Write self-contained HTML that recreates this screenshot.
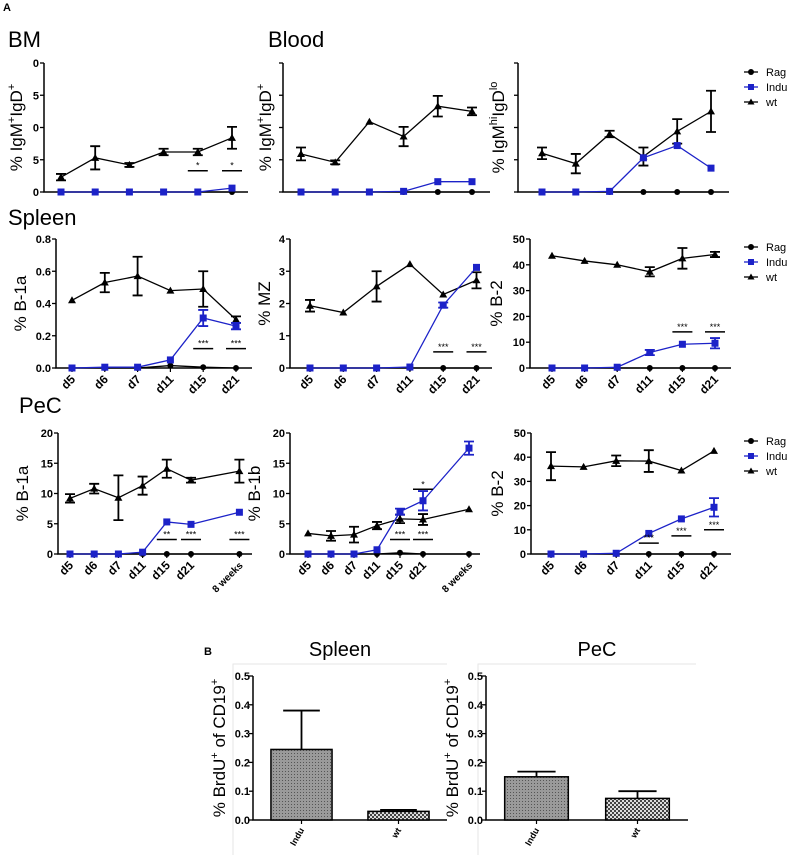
<!DOCTYPE html>
<html><head><meta charset="utf-8"><style>
body{margin:0;background:#fff;}
svg{display:block;font-family:"Liberation Sans",sans-serif;}
</style></head><body>
<svg id="fig" width="793" height="855" viewBox="0 0 793 855" xmlns="http://www.w3.org/2000/svg">
<rect width="793" height="855" fill="#fff"/>
<text x="3" y="11" font-size="11" font-weight="bold">A</text>
<text x="8" y="47" font-size="22">BM</text>
<text x="268" y="47" font-size="22">Blood</text>
<text x="8" y="225" font-size="22">Spleen</text>
<text x="19" y="413" font-size="22">PeC</text>
<text x="204" y="655" font-size="11" font-weight="bold">B</text>
<text x="340" y="656" font-size="20" text-anchor="middle">Spleen</text>
<text x="597" y="656" font-size="20" text-anchor="middle">PeC</text>
<g fill="none" stroke="#e6e6e6" stroke-width="1">
<polyline points="233,855 233,664 447,664"/>
<polyline points="478,855 478,664 696,664"/>
</g>
<defs>
<pattern id="hatch1" width="3" height="3" patternUnits="userSpaceOnUse"><rect width="3" height="3" fill="#9a9a9a"/><rect width="1" height="1" fill="#555"/></pattern>
<pattern id="hatch2" width="4" height="4" patternUnits="userSpaceOnUse"><rect width="4" height="4" fill="#ddd"/><rect width="2" height="2" fill="#444"/><rect x="2" y="2" width="2" height="2" fill="#444"/></pattern>
</defs>
</svg>
<script>
const NS="http://www.w3.org/2000/svg";
const svg=document.getElementById('fig');
function mk(tag,attrs,parent){const e=document.createElementNS(NS,tag);for(const k in attrs)e.setAttribute(k,attrs[k]);(parent||svg).appendChild(e);return e;}

// ---------- DATA ----------
const dayCats=["d5","d6","d7","d11","d15","d21"];
const pecCats=["d5","d6","d7","d11","d15","d21","8 weeks"];
const dayIdx=[0,1,2,3,4,5];
const pecIdx=[0,1,2,3,4,5,7];

const bmWt=[2.3,5.3,4.2,6.2,6.2,8.4];
const bmWtErr=[0.5,1.8,0.3,0.5,0.5,1.7];
const bmIndu=[0,0,0,0,0,0.6];
const bmRag=[0,0,0,0,0,0];
const bmStars=[[4,"*",3.3],[5,"*",3.3]];

const bloodWt=[5.9,4.6,10.9,8.6,13.3,12.5];
const bloodWtErr=[1.0,0.3,0,1.5,1.6,0.6];
const bloodIndu=[0,0,0,0.1,1.6,1.6];
const bloodRag=[0,0,0,0,0,0];

const igmWt=[6.0,4.4,9.0,5.5,9.4,12.5];
const igmWtErr=[0.9,1.5,0.5,1.4,1.9,3.2];
const igmIndu=[0,0,0.1,5.3,7.2,3.7];
const igmRag=[0,0,0,0,0,0];

const sb1aWt=[0.42,0.53,0.57,0.48,0.49,0.30];
const sb1aWtErr=[0,0.06,0.12,0,0.11,0.02];
const sb1aIndu=[0,0.005,0.005,0.05,0.31,0.26];
const sb1aRag=[0,0,0,0.015,0.005,0];
const sb1aStars=[[4,"***",0.12],[5,"***",0.12]];

const mzWt=[1.93,1.72,2.53,3.22,2.28,2.72];
const mzWtErr=[0.18,0,0.47,0,0,0.25];
const mzIndu=[0,0,0,0.03,1.95,3.12];
const mzRag=[0,0,0,0,0,0];
const mzStars=[[4,"***",0.5],[5,"***",0.5]];

const sb2Wt=[43.5,41.5,40,37.3,42.5,44];
const sb2WtErr=[0,0,0,1.8,4,1];
const sb2Indu=[0,0,0.3,6,9.2,9.6];
const sb2Rag=[0,0,0,0,0,0];
const sb2Stars=[[4,"***",14],[5,"***",14]];

const pb1aWt=[9.2,10.8,9.3,11.3,14.1,12.2,13.7];
const pb1aWtErr=[0.7,0.8,3.7,1.5,1.5,0.4,1.9];
const pb1aIndu=[0,0,0,0.3,5.3,4.9,6.9];
const pb1aRag=[0,0,0,0,0,0,0];
const pb1aStars=[[4,"**",2.4],[5,"***",2.4],[6,"***",2.4]];

const pb1bWt=[3.4,3.0,3.2,4.7,5.8,5.7,7.4];
const pb1bWtErr=[0,0.8,1.3,0.6,0.7,0.9,0];
const pb1bIndu=[0,0,0,0.7,7.0,8.8,17.5];
const pb1bInduErr=[0,0,0,0,0.5,1.6,1.1];
const pb1bRag=[0,0,0,0,0.2,0,0];
const pb1bStars=[[4,"***",2.4],[5,"***",2.4],[5,"*",10.7]];

const pb2Wt=[36.3,36,38.5,38.4,34.5,42.6];
const pb2WtErr=[5.8,0,2.2,4.5,0,0];
const pb2Indu=[0,0,0.3,8.5,14.5,19.3];
const pb2InduErr=[0,0,0,0,0,3.8];
const pb2Rag=[0,0,0,0,0,0];
const pb2Stars=[[3,"***",4.5],[4,"***",7.5],[5,"***",10]];

const barCats=["Indu","wt"];
const spleenBar=[0.245,0.03];
const spleenBarErr=[0.135,0.005];
const pecBar=[0.15,0.075];
const pecBarErr=[0.018,0.025];
const barTicks=[0,0.1,0.2,0.3,0.4,0.5];
const barTickLabels=["0.0","0.1","0.2","0.3","0.4","0.5"];

// ---------- DRAWING ----------
const BLUE="#1c22c8";
function linePanel(c){
  const g=mk('g',{});
  
  
  const sy=v=>c.bot-(v/c.ymax)*(c.bot-c.top);
  const sx=i=>c.x0+c.idx[i]*c.step;
  const axes=mk('path',{d:`M${c.ax},${c.top}V${c.bot}H${c.xEnd}`,stroke:'#000','stroke-width':1.5,fill:'none'},g);
  
  
  c.ticks.forEach((t,i)=>{
    const y=sy(t);
    mk('line',{x1:c.ax-4,x2:c.ax,y1:y,y2:y,stroke:'#000','stroke-width':1.3},g);
    const tl=mk('text',{x:c.ax-5,y:y+4,'font-size':11,'font-weight':'bold','text-anchor':'end'},g);
    tl.textContent=c.tickLabels[i];
    
    
  });
  const yl=mk('text',{transform:`translate(${c.ax-c.ylOff},${(c.top+c.bot)/2}) rotate(-90)`,'font-size':17,'text-anchor':'middle'},g);
  yl.innerHTML=c.ylabel;
  
  
  if(c.cats){
    c.cats.forEach((s,i)=>{
      const x=sx(i);
      mk('line',{x1:x,x2:x,y1:c.bot,y2:c.bot+4,stroke:'#000','stroke-width':1.2},g);
      const big=s.length>4;
      const t=mk('text',{transform:`translate(${x+4},${c.bot+12}) rotate(-45)`,'font-size':big?10:12,'font-weight':'bold','text-anchor':'end'},g);
      t.textContent=s;
      
      
    });
  }
  function series(vals,errs,color,marker,nm){
    const pts=vals.map((v,i)=>sx(i)+','+sy(v)).join(' ');
    const l=mk('polyline',{points:pts,fill:'none',stroke:color,'stroke-width':1.3},g);
    
    
    vals.forEach((v,i)=>{
      const x=sx(i),y=sy(v);
      if(errs&&errs[i]>0){
        const e=errs[i],y1=sy(v+e),y2=sy(Math.max(0,v-e));
        const eb=mk('path',{d:`M${x},${y1}V${y2}M${x-5},${y1}H${x+5}M${x-5},${y2}H${x+5}`,stroke:color,'stroke-width':1.8,fill:'none'},g);
        
        
      }
      let m;
      if(marker==='c')m=mk('circle',{cx:x,cy:y,r:3,fill:color},g);
      else if(marker==='s')m=mk('rect',{x:x-3.5,y:y-3.5,width:7,height:7,fill:color},g);
      else m=mk('polygon',{points:`${x},${y-4} ${x-4},${y+3} ${x+4},${y+3}`,fill:color},g);
      
      
    });
  }
  series(c.rag,null,'#000','c','rag');
  series(c.wt,c.wtErr,'#000','t','wt');
  series(c.indu,c.induErr,BLUE,'s','indu');
  (c.stars||[]).forEach(s=>{
    const x=sx(s[0]),y=sy(s[2]);
    const ln=mk('line',{x1:x-10,x2:x+10,y1:y,y2:y,stroke:'#000','stroke-width':1.5},g);
    
    
    const t=mk('text',{x:x,y:y-2,'font-size':9,'text-anchor':'middle'},g);
    t.textContent=s[1];
    
    
  });
  if(c.legend){
    const lg=mk('g',{},g);
    
    
    [['Rag','#000','c'],['Indu',BLUE,'s'],['wt','#000','t']].forEach((r,i)=>{
      const y=c.legend+i*15;
      mk('line',{x1:744,x2:758,y1:y,y2:y,stroke:r[1],'stroke-width':1.3},lg);
      if(r[2]==='c')mk('circle',{cx:751,cy:y,r:3,fill:r[1]},lg);
      else if(r[2]==='s')mk('rect',{x:748,y:y-3,width:6,height:6,fill:r[1]},lg);
      else mk('polygon',{points:`751,${y-3.5} 747.5,${y+2.5} 754.5,${y+2.5}`,fill:r[1]},lg);
      const t=mk('text',{x:766,y:y+4,'font-size':11},lg);
      t.textContent=r[0];
      
      
    });
  }
}
const tk4=[0,5,10,15,20];
linePanel({name:'bm-chart',ax:44,top:63,bot:192,xEnd:248,x0:61,step:34.2,idx:dayIdx,ymax:20,ticks:tk4,tickLabels:["0","5","0","5","0"],ylabel:'% IgM<tspan font-size="11" dy="-7">+</tspan><tspan dy="7">IgD</tspan><tspan font-size="11" dy="-7">+</tspan>',ylOff:22,rag:bmRag,wt:bmWt,wtErr:bmWtErr,indu:bmIndu,stars:bmStars});
linePanel({name:'blood-chart',ax:283,top:63,bot:192,xEnd:490,x0:301,step:34.2,idx:dayIdx,ymax:20,ticks:tk4,tickLabels:["","","","",""],ylabel:'% IgM<tspan font-size="11" dy="-7">+</tspan><tspan dy="7">IgD</tspan><tspan font-size="11" dy="-7">+</tspan>',ylOff:12,rag:bloodRag,wt:bloodWt,wtErr:bloodWtErr,indu:bloodIndu});
linePanel({name:'igmhi-chart',ax:518,top:63,bot:192,xEnd:729,x0:542,step:33.8,idx:dayIdx,ymax:20,ticks:tk4,tickLabels:["","","","",""],ylabel:'% IgM<tspan font-size="11" dy="-7">hi</tspan><tspan dy="7">IgD</tspan><tspan font-size="11" dy="-7">lo</tspan>',ylOff:14,rag:igmRag,wt:igmWt,wtErr:igmWtErr,indu:igmIndu,legend:72});

linePanel({name:'spleen-b1a-chart',ax:56,top:239,bot:368,xEnd:252,x0:72,step:32.8,idx:dayIdx,cats:dayCats,ymax:0.8,ticks:[0,0.2,0.4,0.6,0.8],tickLabels:["0.0","0.2","0.4","0.6","0.8"],ylabel:'% B-1a',ylOff:30,rag:sb1aRag,wt:sb1aWt,wtErr:sb1aWtErr,indu:sb1aIndu,induErr:[0,0,0,0,0.05,0.02],stars:sb1aStars});
linePanel({name:'spleen-mz-chart',ax:290,top:239,bot:368,xEnd:492,x0:310,step:33.3,idx:dayIdx,cats:dayCats,ymax:4,ticks:[0,1,2,3,4],tickLabels:["0","1","2","3","4"],ylabel:'% MZ',ylOff:20,rag:mzRag,wt:mzWt,wtErr:mzWtErr,indu:mzIndu,induErr:[0,0,0,0,0.08,0],stars:mzStars});
linePanel({name:'spleen-b2-chart',ax:530,top:239,bot:368,xEnd:731,x0:552,step:32.6,idx:dayIdx,cats:dayCats,ymax:50,ticks:[0,10,20,30,40,50],tickLabels:["0","10","20","30","40","50"],ylabel:'% B-2',ylOff:28,rag:sb2Rag,wt:sb2Wt,wtErr:sb2WtErr,indu:sb2Indu,induErr:[0,0,0,1,0,2],stars:sb2Stars,legend:247});

linePanel({name:'pec-b1a-chart',ax:58,top:433,bot:554,xEnd:252,x0:70,step:24.2,idx:pecIdx,cats:pecCats,ymax:20,ticks:tk4,tickLabels:["0","5","10","15","20"],ylabel:'% B-1a',ylOff:30,rag:pb1aRag,wt:pb1aWt,wtErr:pb1aWtErr,indu:pb1aIndu,stars:pb1aStars});
linePanel({name:'pec-b1b-chart',ax:290,top:433,bot:554,xEnd:480,x0:308,step:23,idx:pecIdx,cats:pecCats,ymax:20,ticks:tk4,tickLabels:["0","5","10","15","20"],ylabel:'% B-1b',ylOff:30,rag:pb1bRag,wt:pb1bWt,wtErr:pb1bWtErr,indu:pb1bIndu,induErr:pb1bInduErr,stars:pb1bStars});
linePanel({name:'pec-b2-chart',ax:531,top:433,bot:554,xEnd:731,x0:551,step:32.6,idx:dayIdx,cats:dayCats,ymax:50,ticks:[0,10,20,30,40,50],tickLabels:["0","10","20","30","40","50"],ylabel:'% B-2',ylOff:28,rag:pb2Rag,wt:pb2Wt,wtErr:pb2WtErr,indu:pb2Indu,induErr:pb2InduErr,stars:pb2Stars,legend:441});

function barPanel(c){
  const g=mk('g',{});
  
  
  const sy=v=>c.bot-(v/0.5)*(c.bot-c.top);
  const axes=mk('path',{d:`M${c.ax},${c.top}V${c.bot}H${c.xEnd}`,stroke:'#000','stroke-width':1.5,fill:'none'},g);
  
  
  barTicks.forEach((t,i)=>{
    const y=sy(t);
    mk('line',{x1:c.ax-4,x2:c.ax,y1:y,y2:y,stroke:'#000','stroke-width':1.3},g);
    const tl=mk('text',{x:c.ax-3,y:y+4,'font-size':11,'font-weight':'bold','text-anchor':'end'},g);
    tl.textContent=barTickLabels[i];
    
    
  });
  const yl=mk('text',{transform:`translate(${c.ax-28},${(c.top+c.bot)/2}) rotate(-90)`,'font-size':17,'text-anchor':'middle'},g);
  yl.innerHTML='% BrdU<tspan font-size="11" dy="-7">+</tspan><tspan dy="7"> of CD19</tspan><tspan font-size="11" dy="-7">+</tspan>';
  
  
  const w=(c.xEnd-c.ax)/barCats.length;
  c.vals.forEach((v,i)=>{
    const cx=c.ax+w*(i+0.5),bw=w*0.63;
    const e=mk('path',{d:`M${cx},${sy(v)}V${sy(v+c.errs[i])}M${cx-bw*0.3},${sy(v+c.errs[i])}H${cx+bw*0.3}`,stroke:'#000','stroke-width':1.8,fill:'none'},g);
    
    
    const r=mk('rect',{x:cx-bw/2,y:sy(v),width:bw,height:c.bot-sy(v),fill:i?'url(#hatch2)':'url(#hatch1)',stroke:'#000','stroke-width':1.5},g);
    
    
    mk('line',{x1:cx,x2:cx,y1:c.bot,y2:c.bot+4,stroke:'#000','stroke-width':1.2},g);
    const t=mk('text',{transform:`translate(${cx+3},${c.bot+10}) rotate(-60)`,'font-size':9,'font-weight':'bold','text-anchor':'end'},g);
    t.textContent=barCats[i];
    
    
  });
}
barPanel({name:'spleen-brdu-chart',ax:253,top:676,bot:820,xEnd:447,vals:spleenBar,errs:spleenBarErr});
barPanel({name:'pec-brdu-chart',ax:486,top:676,bot:820,xEnd:688,vals:pecBar,errs:pecBarErr});
</script>
</body></html>
